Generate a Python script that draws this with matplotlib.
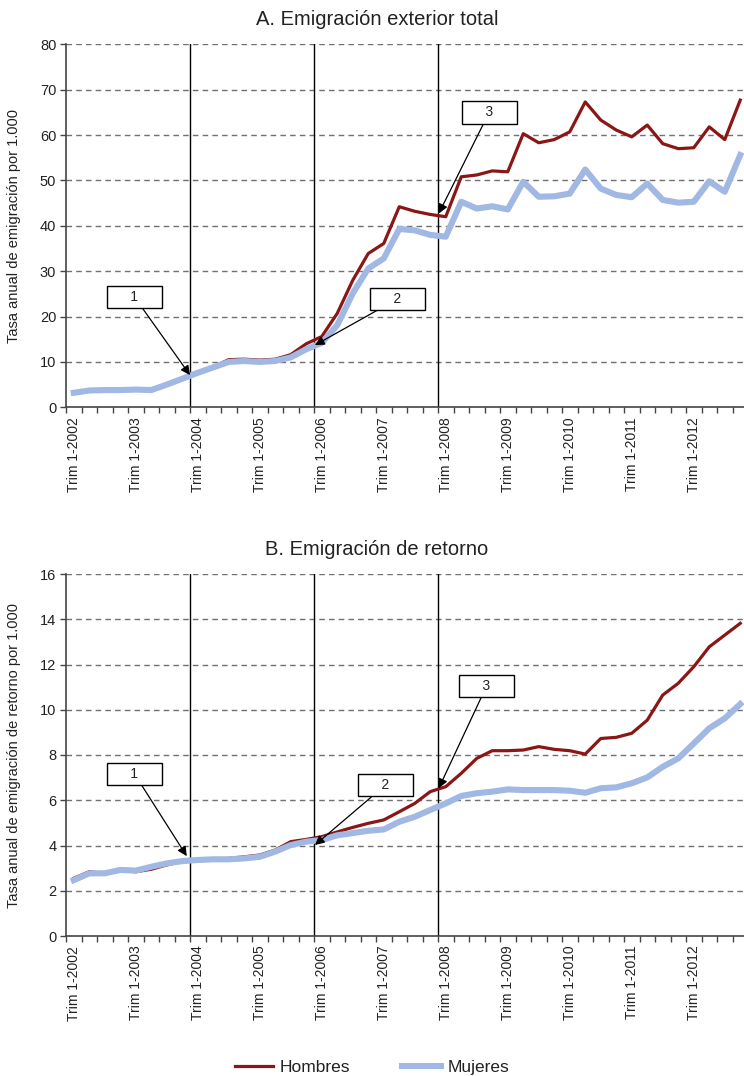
import numpy as np
import matplotlib
matplotlib.use("Agg")
import matplotlib.pyplot as plt
from matplotlib.lines import Line2D

plt.rcParams['font.family'] = ['Liberation Sans', 'DejaVu Sans']

# Quarterly series, Trim 1-2002 .. Trim 4-2012 (44 quarters)
years = list(range(2002, 2013))
tick_labels = ["Trim 1-%d" % y for y in years]

# A. Emigracion exterior total
hombres_a = [3.2, 3.7, 3.8, 3.8, 3.8, 3.6, 5.0, 6.3, 7.6, 8.9, 10.5, 10.6, 10.4, 10.6, 11.6,
             14.0, 15.6, 20.7, 28.0, 33.9, 36.1, 44.2, 43.2, 42.5, 42.0, 50.8, 51.2, 52.1,
             51.9, 60.3, 58.3, 59.0, 60.7, 67.3, 63.3, 61.1, 59.6, 62.2, 58.1, 57.0, 57.2,
             61.8, 59.0, 67.7]
mujeres_a = [3.2, 3.7, 3.8, 3.8, 3.9, 3.8, 5.0, 6.3, 7.6, 8.8, 10.0, 10.2, 10.0, 10.2, 11.0,
             12.8, 14.2, 18.1, 25.1, 30.6, 32.8, 39.3, 39.0, 38.0, 37.6, 45.3, 43.8, 44.3,
             43.6, 49.7, 46.4, 46.5, 47.1, 52.4, 48.2, 46.8, 46.3, 49.3, 45.7, 45.1, 45.3,
             49.8, 47.5, 55.6]

# B. Emigracion de retorno
hombres_b = [2.55, 2.84, 2.77, 2.92, 2.84, 2.95, 3.14, 3.31, 3.36, 3.39, 3.43, 3.50, 3.58,
             3.80, 4.17, 4.27, 4.39, 4.60, 4.80, 4.98, 5.13, 5.49, 5.86, 6.38, 6.60, 7.19,
             7.85, 8.19, 8.19, 8.22, 8.37, 8.25, 8.19, 8.04, 8.73, 8.78, 8.96, 9.54, 10.65,
             11.17, 11.90, 12.78, 13.30, 13.82]
mujeres_b = [2.47, 2.77, 2.77, 2.92, 2.89, 3.06, 3.21, 3.31, 3.36, 3.39, 3.39, 3.43, 3.50,
             3.73, 4.02, 4.17, 4.24, 4.45, 4.55, 4.65, 4.71, 5.05, 5.27, 5.57, 5.86, 6.19,
             6.31, 6.38, 6.48, 6.45, 6.45, 6.45, 6.42, 6.33, 6.53, 6.57, 6.75, 7.01, 7.48,
             7.85, 8.51, 9.18, 9.62, 10.25]

# vertical reference lines (quarter boundaries) and numbered callouts
vlines = [8, 16, 24]
callouts_a = [("1", (4.42, 24.3), (8.0, 7.1)),
              ("2", (21.4, 23.9), (16.06, 13.7)),
              ("3", (27.3, 65.0), (24.05, 42.7))]
callouts_b = [("1", (4.43, 7.15), (7.79, 3.53)),
              ("2", (20.6, 6.67), (16.06, 4.02)),
              ("3", (27.14, 11.06), (24.05, 6.53))]

RED = '#8a1616'
BLUE = '#a0b8e3'

fig = plt.figure(figsize=(7.44, 10.76), dpi=100)
W, H = 744.0, 1076.0
ax_a = fig.add_axes([66 / W, (H - 407.3) / H, 682 / W, 363 / H])
ax_b = fig.add_axes([66 / W, (H - 936) / H, 682 / W, 362 / H])


def draw_panel(ax, hom, muj, ymax, ystep, title, ylabel, callouts):
    n = len(hom)
    x = np.arange(n) + 0.5
    ax.plot(x, hom, color=RED, lw=2.3, solid_joinstyle='round', zorder=3)
    ax.plot(x, muj, color=BLUE, lw=4.4, solid_joinstyle='round', zorder=4)
    for v in vlines:
        ax.axvline(v, color='black', lw=1.0, zorder=2)
    ax.set_xlim(0, n)
    ax.set_ylim(0, ymax)
    yt = np.arange(0, ymax + ystep, ystep)
    ax.set_yticks(yt)
    ax.set_yticklabels(["%d" % v for v in yt], fontsize=10.5, color='#222222')
    for v in yt[1:]:
        ax.axhline(v, color='#707070', lw=1.0, ls=(0, (4, 3)), zorder=1)
    ax.set_xticks(np.arange(0, n + 1))
    ax.set_xticklabels([])
    ax.set_xticks(np.arange(0, n, 4) + 0.5, minor=True)
    ax.set_xticklabels(tick_labels, minor=True, rotation=90, fontsize=10, color='#222222')
    ax.tick_params(axis='x', which='major', length=4, width=1, color='#444444', direction='out')
    ax.tick_params(axis='x', which='minor', length=0, pad=7)
    ax.tick_params(axis='y', length=4, width=1, color='#444444', direction='out', pad=3)
    for s in ['top', 'right']:
        ax.spines[s].set_visible(False)
    for s in ['left', 'bottom']:
        ax.spines[s].set_color('#444444')
        ax.spines[s].set_linewidth(1.2)
    ax.set_title(title, fontsize=14.5, color='#222222', pad=14, x=(377 - 66) / 682)
    ax.set_ylabel(ylabel, fontsize=10.5, color='#222222')
    ax.yaxis.set_label_coords(-0.066, 0.5)
    for label, xy_text, xy in callouts:
        ax.annotate("     " + label + "     ", xy=xy, xytext=xy_text,
                    ha='center', va='center', fontsize=10, color='#222222',
                    bbox=dict(boxstyle='square,pad=0.3', fc='white', ec='black', lw=1.0),
                    arrowprops=dict(arrowstyle='-|>', color='black', lw=0.9,
                                    mutation_scale=14, shrinkA=0, shrinkB=0),
                    zorder=6)


draw_panel(ax_a, hombres_a, mujeres_a, 80, 10, "A. Emigración exterior total",
           "Tasa anual de emigración por 1.000", callouts_a)
draw_panel(ax_b, hombres_b, mujeres_b, 16, 2, "B. Emigración de retorno",
           "Tasa anual de emigración de retorno por 1.000", callouts_b)

handles = [Line2D([], [], color=RED, lw=2.3), Line2D([], [], color=BLUE, lw=4.4)]
fig.legend(handles, ["Hombres", "Mujeres"], loc='center', bbox_to_anchor=(0.5, 1 - 1067 / H),
           ncol=2, frameon=False, fontsize=12.5, handlelength=2.2, columnspacing=3.0,
           handletextpad=0.4, labelcolor='#222222')

fig.savefig("out.png", dpi=100)
